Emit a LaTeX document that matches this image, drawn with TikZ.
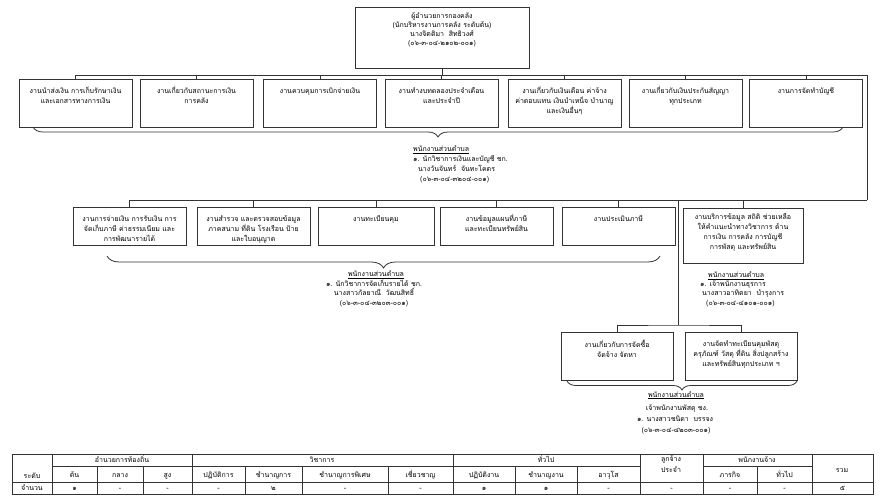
\documentclass[tikz,border=0pt]{standalone}
\usepackage{fontspec}
\newfontfamily\thaifont[Script=Thai]{Loma}
\usetikzlibrary{decorations.pathreplacing}
\newcommand\fl{\rule{0pt}{7pt}}
\begin{document}
\begin{tikzpicture}[x=1pt,y=-1pt,
  orgbox/.style={draw=black!80, line width=0.8pt, inner sep=0pt},
  btext/.style={font=\thaifont\fontsize{7}{10}\selectfont, align=center, anchor=north, inner sep=0pt},
  ltext/.style={font=\thaifont\fontsize{7}{10}\selectfont, anchor=base west, inner sep=0pt},
  ctext/.style={font=\thaifont\fontsize{7}{10}\selectfont, anchor=base, inner sep=0pt},
  ttext/.style={font=\thaifont\fontsize{7}{10}\selectfont, anchor=mid, inner sep=0pt},
  wire/.style={draw=black!80, line width=0.8pt},
  brc/.style={draw=black!80, line width=0.8pt, decorate, decoration={brace, amplitude=#1}},
  brc/.default=10pt,
]
\useasboundingbox (0,0) rectangle (886,502);
\fill[white] (0,0) rectangle (886,502);

% ---- top box
\node[orgbox, minimum width=174pt, minimum height=61pt] (top) at (442,37.5) {};
\node[btext, font=\thaifont\fontsize{7}{9}\selectfont] (toptxt) at ([yshift=-4.5pt]top.north)
  {\fl ผู้อำนวยการกองคลัง\\(นักบริหารงานการคลัง ระดับต้น)\\นางจิตติมา\ \ สิทธิวงศ์\\(๐๖-๓-๐๔-๒๑๐๒-๐๐๑)};

% ---- row 1
\foreach \n/\x in {b1/75.5,b2/196.5,b3/320,b4/441.5,b5/564.5,b6/685.5,b7/806}
  \node[orgbox, minimum width=113pt, minimum height=48pt] (\n) at (\x,103) {};
\node[btext] (b1t) at ([yshift=-8pt]b1.north) {\fl งานนำส่งเงิน การเก็บรักษาเงิน\\และเอกสารทางการเงิน};
\node[btext] (b2t) at ([yshift=-8pt]b2.north) {\fl งานเกี่ยวกับสถานะการเงิน\\การคลัง};
\node[btext] (b3t) at ([yshift=-8pt]b3.north) {\fl งานควบคุมการเบิกจ่ายเงิน};
\node[btext] (b4t) at ([yshift=-8pt]b4.north) {\fl งานทำงบทดลองประจำเดือน\\และประจำปี};
\node[btext] (b5t) at ([yshift=-8pt]b5.north) {\fl งานเกี่ยวกับเงินเดือน ค่าจ้าง\\ค่าตอบแทน เงินบำเหน็จ บำนาญ\\และเงินอื่นๆ};
\node[btext] (b6t) at ([yshift=-8pt]b6.north) {\fl งานเกี่ยวกับเงินประกันสัญญา\\ทุกประเภท};
\node[btext] (b7t) at ([yshift=-8pt]b7.north) {\fl งานการจัดทำบัญชี};

\coordinate (bus1R) at (867,75);
\coordinate (bus2R) at (867,200);
\draw[wire] (top.south) -- (top.south |- bus1R);
\draw[wire] (b1.north) |- (bus1R);
\foreach \n in {b2,b3,b4,b5,b6,b7}
  \draw[wire] (\n.north) -- (\n.north |- bus1R);
\draw[wire] (bus1R) -- (bus2R);

% brace 1
\draw[brc=10pt] (843,127) -- (33,127);
\node[ltext] (l1a) at (413,151.6) {\underline{พนักงานส่วนตำบล}};
\node[ltext] (l1b) at (413,161.6) {๑. นักวิชาการเงินและบัญชี ชก.};
\node[ltext] (l1c) at (418,171.6) {นางวันจันทร์\ \ จันทะโคตร};
\node[ltext] (l1d) at (420,181.6) {(๐๖-๓-๐๔-๓๒๐๔-๐๐๑)};

% ---- row 2
\foreach \n/\x in {c1/129.5,c2/253.5,c4/496.5,c5/618.5}
  \node[orgbox, minimum width=113pt, minimum height=38pt] (\n) at (\x,226) {};
\node[orgbox, minimum width=116pt, minimum height=38pt] (c3) at (376,226) {};
\node[orgbox, minimum width=120pt, minimum height=55pt] (c6) at (743,235.5) {};
\node[btext] (c1t) at ([yshift=-8pt]c1.north) {\fl งานการจ่ายเงิน การรับเงิน การ\\จัดเก็บภาษี ค่าธรรมเนียม และ\\การพัฒนารายได้};
\node[btext] (c2t) at ([yshift=-8pt]c2.north) {\fl งานสำรวจ และตรวจสอบข้อมูล\\ภาคสนาม ที่ดิน โรงเรือน ป้าย\\และใบอนุญาต};
\node[btext] (c3t) at ([yshift=-8pt]c3.north) {\fl งานทะเบียนคุม};
\node[btext] (c4t) at ([yshift=-8pt]c4.north) {\fl งานข้อมูลแผนที่ภาษี\\และทะเบียนทรัพย์สิน};
\node[btext] (c5t) at ([yshift=-8pt]c5.north) {\fl งานประเมินภาษี};
\node[btext] (c6t) at ([yshift=-5pt]c6.north) {\fl งานบริการข้อมูล สถิติ ช่วยเหลือ\\ให้คำแนะนำทางวิชาการ ด้าน\\การเงิน การคลัง การบัญชี\\การพัสดุ และทรัพย์สิน};

\draw[wire] (bus2R) -| (c1.north);
\foreach \n in {c2,c3,c4,c5,c6}
  \draw[wire] (\n.north) -- (\n.north |- bus2R);

% brace 2
\draw[brc=12pt] (660,256) -- (107,256);
\node[ctext] (l2a) at (376,277) {\underline{พนักงานส่วนตำบล}};
\node[ctext] (l2b) at (374,287) {๑. นักวิชาการจัดเก็บรายได้ ชก.};
\node[ctext] (l2c) at (374,296) {นางสาวกัลยาณี\ \ วัฒนสิทธิ์};
\node[ctext] (l2d) at (374,305.5) {(๐๖-๓-๐๔-๓๒๐๓-๐๐๑)};

% under c6
\node[ltext] (l3a) at (708,278) {\underline{พนักงานส่วนตำบล}};
\node[ltext] (l3b) at (700,287) {๑. เจ้าพนักงานธุรการ};
\node[ltext] (l3c) at (702,295.5) {นางสาวอาทิตยา\ \ บำรุงการ};
\node[ltext] (l3d) at (706,305.5) {(๐๖-๓-๐๔-๔๑๐๑-๐๐๑)};

% ---- row 3
\node[orgbox, minimum width=112pt, minimum height=48pt] (d1) at (617,356) {};
\node[orgbox, minimum width=112pt, minimum height=48pt] (d2) at (741,356) {};
\node[btext] (d1t) at ([yshift=-8pt]d1.north) {\fl งานเกี่ยวกับการจัดซื้อ\\จัดจ้าง จัดหา};
\node[btext] (d2t) at ([yshift=-8pt]d2.north) {\fl งานจัดทำทะเบียนคุมพัสดุ\\ครุภัณฑ์ วัสดุ ที่ดิน สิ่งปลูกสร้าง\\และทรัพย์สินทุกประเภท ฯ};

\coordinate (j3) at (678,200);
\coordinate (bus3) at (678,325);
\draw[wire] (j3) -- (bus3);
\draw[wire] (d1.north) |- (bus3) -| (d2.north);

% brace 3
\draw[brc=9pt] (797,381) -- (567,381);
\node[ctext] (l4a) at (676,397) {\underline{พนักงานส่วนตำบล}};
\node[ctext] (l4b) at (677,410) {เจ้าพนักงานพัสดุ ชง.};
\node[ctext] (l4c) at (675,421) {๑. นางสาวชนิดา\ \ บรรจง};
\node[ctext] (l4d) at (676,432) {(๐๖-๓-๐๔-๔๒๐๓-๐๐๑)};

% ---- table
\draw[wire] (12,454) rectangle (873,494);
\draw[wire] (52,466) -- (640,466);
\draw[wire] (703,466) -- (812,466);
\draw[wire] (12,482) -- (873,482);
\foreach \x in {52,192,453,640,703,812}
  \draw[wire] (\x,454) -- (\x,494);
\foreach \x in {97,143,245,302,388,515,577,757}
  \draw[wire] (\x,466) -- (\x,494);

\node[ttext] (h1) at (122,460) {อำนวยการท้องถิ่น};
\node[ttext] (h2) at (322,460) {วิชาการ};
\node[ttext] (h3) at (546,460) {ทั่วไป};
\node[ttext] (h4) at (757,460) {พนักงานจ้าง};
\node[ttext] (h5a) at (671,459) {ลูกจ้าง};
\node[ttext] (h5b) at (671,470) {ประจำ};
\node[ttext] (h6) at (842,470) {รวม};
\node[ttext] (h0) at (32,476) {ระดับ};

\foreach \x/\t in {74.5/ต้น,120/กลาง,167.5/สูง,218.5/ปฏิบัติการ,273.5/ชำนาญการ,345/ชำนาญการพิเศษ,420.5/เชี่ยวชาญ,484/ปฏิบัติงาน,546/ชำนาญงาน,608.5/อาวุโส,730/ภารกิจ,784.5/ทั่วไป}
  \node[ttext] at (\x,475) {\t};

\node[ttext] (r0) at (32,488) {จำนวน};
\foreach \x/\t in {74.5/๑,120/-,167.5/-,218.5/-,273.5/๒,345/-,420.5/-,484/๑,546/๑,608.5/-,671.5/-,730/-,784.5/-,842.5/๕}
  \node[ttext] at (\x,488) {\t};
\end{tikzpicture}
\end{document}
